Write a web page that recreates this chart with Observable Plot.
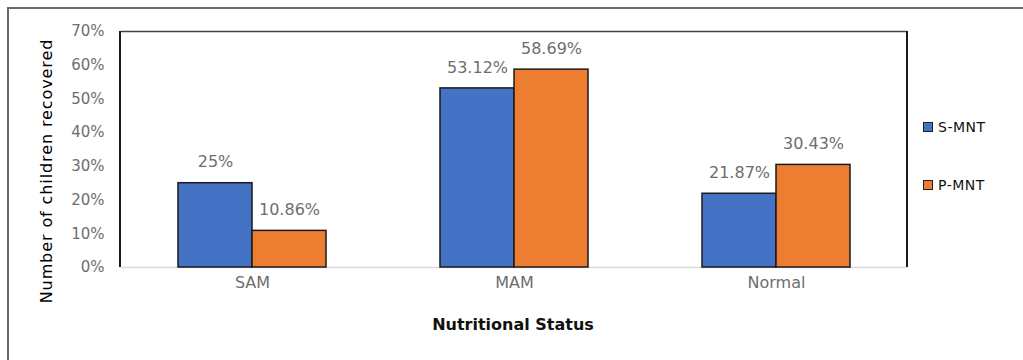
<!DOCTYPE html>
<html>
<head>
<meta charset="utf-8">
<script src="https://cdn.jsdelivr.net/npm/d3@7"></script>
<script src="https://cdn.jsdelivr.net/npm/@observablehq/plot@0.6"></script>
<style>
  html, body { margin: 0; padding: 0; background: #fff; overflow: hidden; width: 1023px; height: 360px; }
  #wrap { position: relative; width: 1023px; height: 360px; font-family: "DejaVu Sans", sans-serif; }
  #outer { position: absolute; left: 7px; top: 7px; width: 1100px; height: 400px; border-top: 2px solid #6a6a6a; border-left: 2px solid #6a6a6a; box-sizing: border-box; }
  #chart { position: absolute; left: 0; top: 0; }
  #ytitle { position: absolute; left: 46px; top: 171px; transform: translate(-50%, -50%) rotate(-90deg); white-space: nowrap; font-size: 16px; letter-spacing: 0.9px; color: #000; }
  #xtitle { position: absolute; left: 513px; top: 324px; transform: translate(-50%, -50%); white-space: nowrap; font-size: 16px; font-weight: bold; color: #111; }
  .leg { position: absolute; left: 923px; display: flex; align-items: center; font-size: 14px; letter-spacing: 0.5px; color: #111; transform: translateY(-50%); }
  .sw { width: 8px; height: 8px; border: 1px solid #222; margin-right: 5px; }
</style>
</head>
<body>
<div id="wrap">
  <div id="outer"></div>
  <div id="chart"></div>
  <div id="ytitle"></div>
  <div id="xtitle"></div>
  <div id="legend"></div>
</div>
<script>
const categories = ["SAM", "MAM", "Normal"];
const series = ["S-MNT", "P-MNT"];
const sMNT = [0.25, 0.5312, 0.2187];
const pMNT = [0.1086, 0.5869, 0.3043];
const sLabels = ["25%", "53.12%", "21.87%"];
const pLabels = ["10.86%", "58.69%", "30.43%"];
const yTicks = [0, 0.1, 0.2, 0.3, 0.4, 0.5, 0.6, 0.7];
const colors = ["#4472C4", "#ED7D31"];
const yTitle = "Number of children recovered";
const xTitle = "Nutritional Status";

const data = categories.flatMap((c, i) => [
  {cat: c, series: series[0], value: sMNT[i], label: sLabels[i]},
  {cat: c, series: series[1], value: pMNT[i], label: pLabels[i]}
]);

const W = 1023, H = 360;
const chart = Plot.plot({
  width: W, height: H,
  marginTop: 31, marginBottom: 93, marginLeft: 120, marginRight: 116,
  style: {fontFamily: "DejaVu Sans, sans-serif", fontSize: "15px", color: "#595959", background: "transparent", overflow: "visible"},
  fx: {domain: categories, padding: 0, label: null},
  x: {domain: series, paddingInner: 0, paddingOuter: 0.75, axis: null},
  y: {domain: [0, 0.7], label: null},
  color: {domain: series, range: colors},
  marks: [
    Plot.axisY(yTicks, {tickSize: 0, tickPadding: 17, tickFormat: d3.format(".0%"), fontSize: 15, fill: "#6e6e6e", label: null}),
    Plot.axisFx({anchor: "bottom", tickSize: 0, tickPadding: 9, fontSize: 16, fill: "#6e6e6e", label: null}),
    Plot.ruleY([0], {stroke: "#d9d9d9", strokeWidth: 1.5}),
    Plot.ruleY([0.7], {stroke: "#444", strokeWidth: 1.5}),
    Plot.barY(data, {fx: "cat", x: "series", y: "value", fill: "series", stroke: "#1a1a1a", strokeWidth: 1.5}),
    Plot.text(data, {fx: "cat", x: "series", y: "value", text: "label", dy: -21, fill: "#6e6e6e", fontSize: 16})
  ]
});
document.getElementById("chart").appendChild(chart);

// left and right borders of the plot area, from the library's scales
const ys = chart.scale("y");
const fxs = chart.scale("fx");
const svg = d3.select(chart);
const y0 = ys.apply(0), y1 = ys.apply(0.7);
const xl = fxs.range[0], xr = fxs.range[1];
for (const x of [xl, xr]) {
  svg.append("line").attr("x1", x).attr("x2", x).attr("y1", y1).attr("y2", y0)
    .attr("stroke", "#1a1a1a").attr("stroke-width", 2);
}

document.getElementById("ytitle").textContent = yTitle;
document.getElementById("xtitle").textContent = xTitle;
const legend = document.getElementById("legend");
const legendY = [127, 185];
series.forEach((s, i) => {
  const el = document.createElement("div");
  el.className = "leg";
  el.style.top = legendY[i] + "px";
  el.innerHTML = `<span class="sw" style="background:${colors[i]}"></span><span>${s}</span>`;
  legend.appendChild(el);
});
</script>
</body>
</html>
